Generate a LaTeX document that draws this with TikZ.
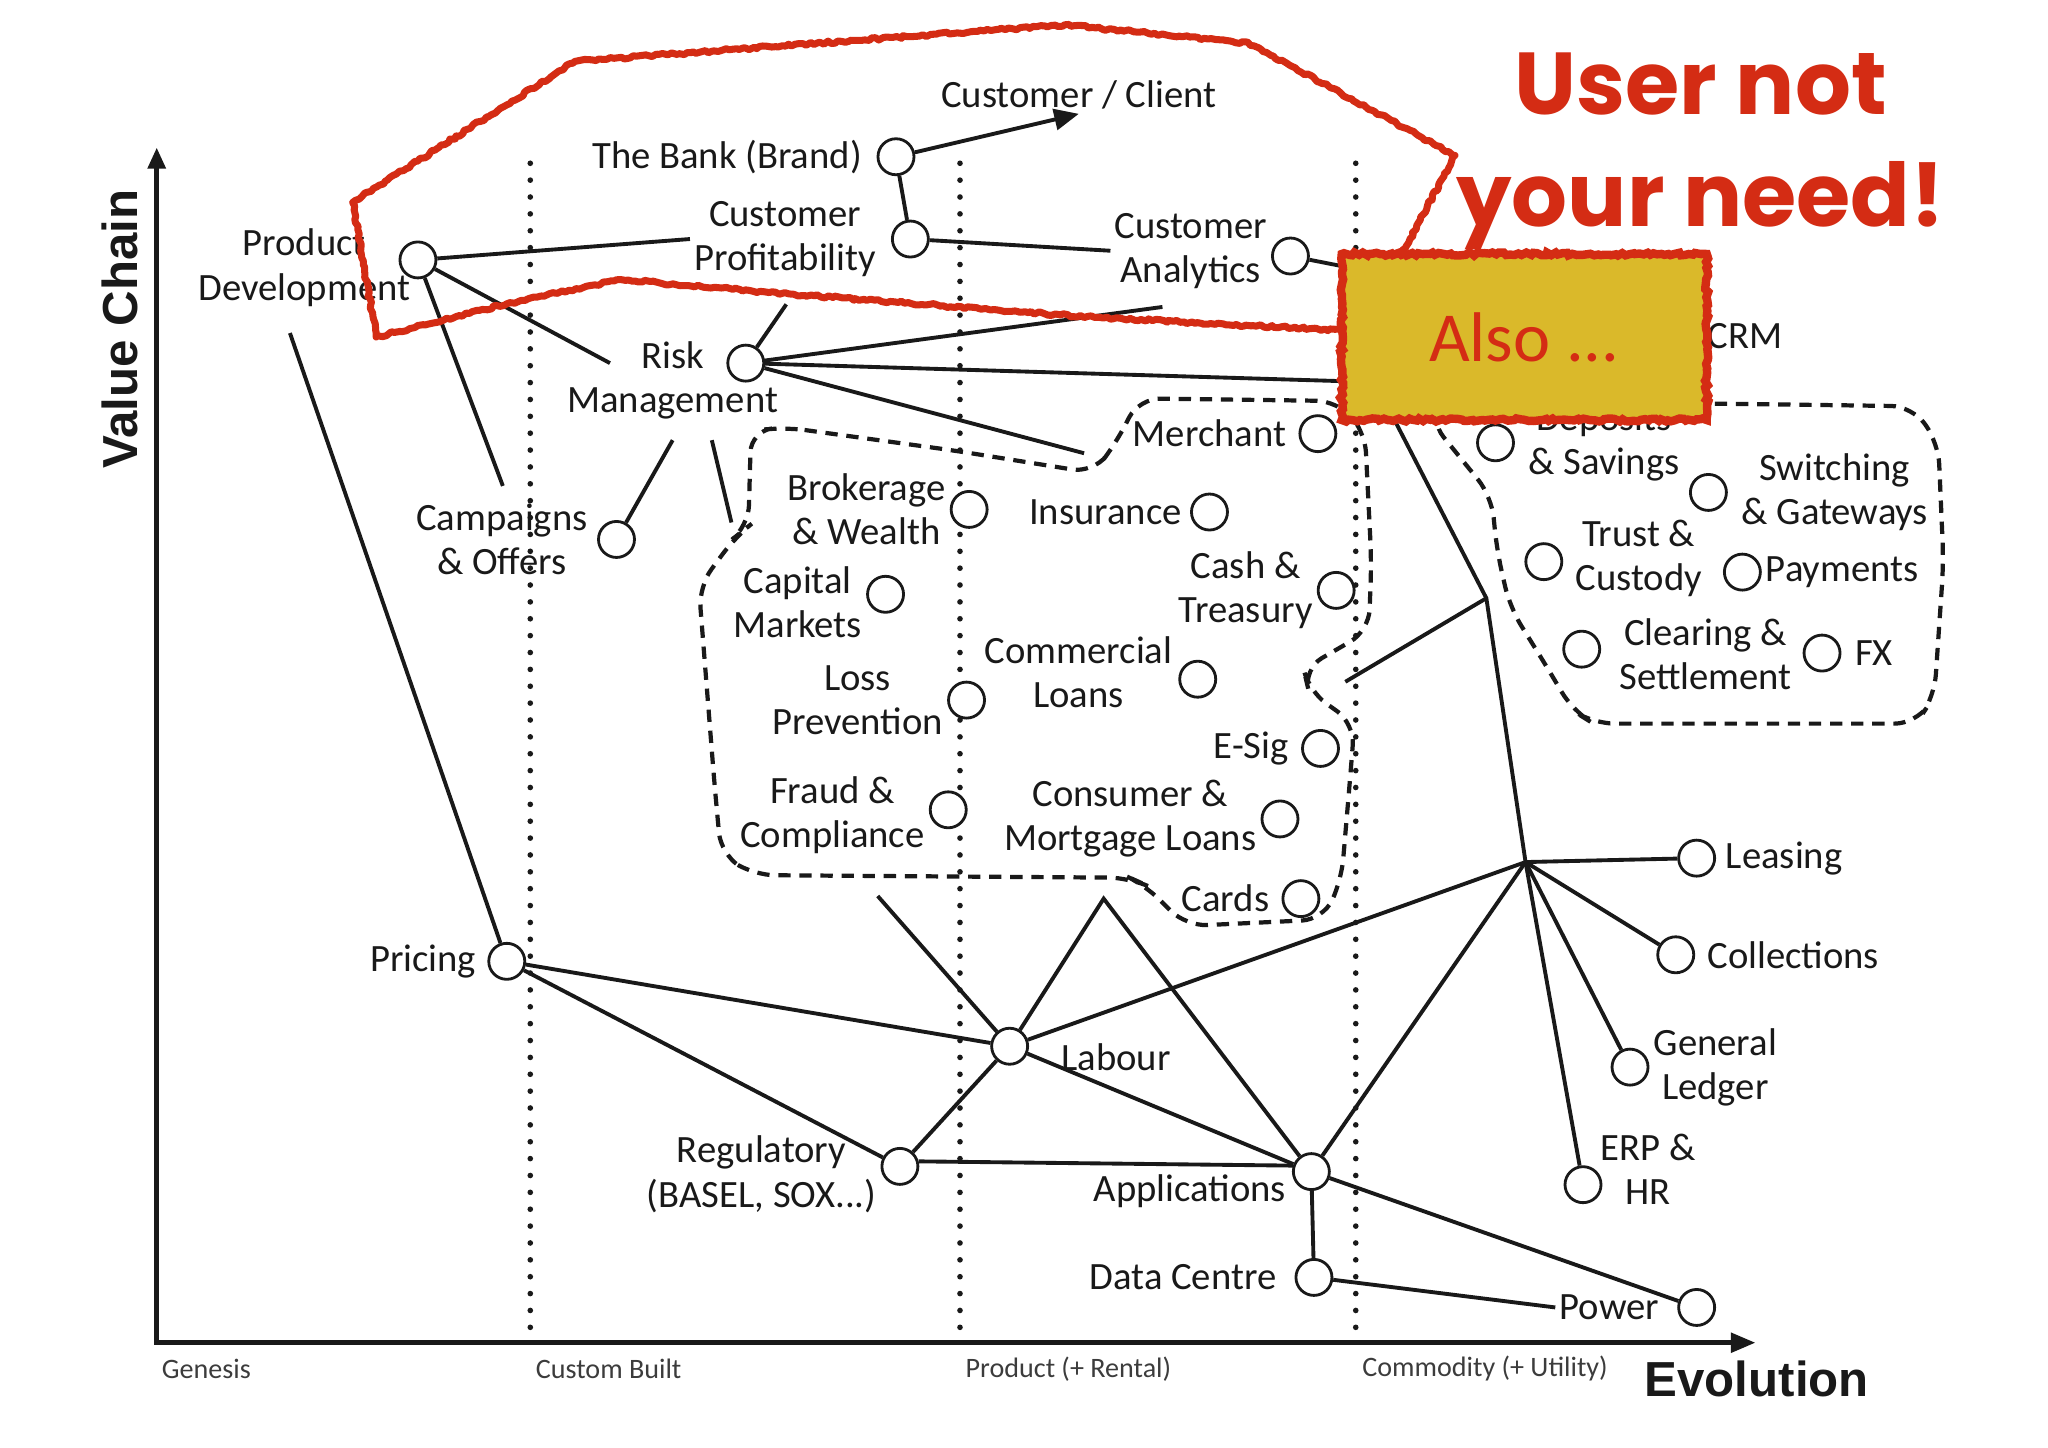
\documentclass[tikz,border=0pt]{standalone}
\usepackage{fontspec}
\setmainfont{Carlito}
\newfontfamily\headfont{Liberation Sans}
\newfontfamily\handfont{Poppins}
\usepackage{tikz}
\usetikzlibrary{arrows.meta, positioning, decorations.pathmorphing}
\definecolor{myred}{RGB}{212,44,20}
\definecolor{mydark}{RGB}{25,25,25}
\definecolor{mygray}{RGB}{60,60,60}
\definecolor{myyellow}{RGB}{218,185,42}
\tikzset{
  comp/.style={circle, draw=mydark, fill=white, minimum size=0.36cm,
    inner sep=0pt, line width=0.8pt},
  lbl/.style={align=center, inner sep=1pt, text=mydark,
    font=\fontsize{11}{12.6}\selectfont},
  stagelbl/.style={inner sep=1pt, text=mygray, font=\fontsize{8}{9}\selectfont},
  axislbl/.style={inner sep=1pt, text=mydark, font=\headfont\bfseries\fontsize{14}{16}\selectfont},
  line/.style={line width=1.1pt, color=mydark},
  arrow/.style={-{Triangle[length=7pt, width=6pt]}, line width=1.1pt, color=mydark},
  axisline/.style={line width=1.3pt, color=mydark},
  stage/.style={line width=1.6pt, line cap=round, dash pattern=on 0pt off 4.8pt, color=mydark},
  grp/.style={line width=1.2pt, dash pattern=on 3.5pt off 2.5pt, rounded corners=6pt, color=mydark},
  rough/.style={draw=myred, line width=2pt, line join=round, decorate,
    decoration={random steps, segment length=1pt, amplitude=0.4pt}}
}

\begin{document}
\begin{tikzpicture}[x=0.01306cm, y=-0.01306cm,
  alsobox/.style={rectangle, fill=myyellow, draw=myred, line width=2.4pt,
    minimum width=3.65cm, minimum height=1.66cm, text=myred,
    font=\fontsize{20}{24}\selectfont, decorate,
    decoration={random steps, segment length=1pt, amplitude=0.45pt}},
  slogan/.style={align=center, text=myred, inner sep=0pt,
    font=\handfont\bfseries\fontsize{25}{32}\selectfont}]
  \pgfmathsetseed{7}
  \useasboundingbox (0,0) rectangle (1568,1108);

  \foreach \x in {406,735,1038}
    \draw[stage] (\x,125) -- (\x,1020);
  \draw[axisline, {Triangle[length=6pt, width=5pt]}-{Triangle[length=7pt, width=5.5pt]}]
    (120,113) -- (120,1028) -- (1344,1028);
  \node[axislbl, rotate=90] (vchain) at (92,252) {Value Chain};
  \node[axislbl] (evol) at (1345,1056) {Evolution};
  \node[stagelbl] (genesis) at (158,1048) {Genesis};
  \node[stagelbl] (custom) at (466,1048) {Custom Built};
  \node[stagelbl] (product) at (818,1048) {Product (+ Rental)};
  \node[stagelbl] (commodity) at (1137,1048) {Commodity (+ Utility)};

  \draw[grp] (600,327) -- (731,345) -- (837,362) -- (854,340) -- (872,305)
    -- (1024,307) -- (1045,330) -- (1050,430) -- (1048,483) -- (998,512)
    -- (1002,529) -- (1037,554) -- (1034,592) -- (1027,674) -- (1013,704)
    -- (908,709) -- (876,677) -- (865,672) -- (577,670) -- (552,654)
    -- (547,600) -- (535,449) -- (563,411) -- (573,403) -- (575,330) -- cycle;
  \draw[grp] (1313,309) -- (1464,311) -- (1484,339) -- (1488,431) -- (1481,533)
    -- (1467,554) -- (1220,554) -- (1204,544) -- (1187,515) -- (1156,465)
    -- (1146,421) -- (1142,380) -- (1095,322) -- (1100,309) -- cycle;

  \node[comp] (bank) at (686,120) {};
  \node[comp] (prof) at (697,183) {};
  \node[comp] (pd) at (320,199) {};
  \node[comp] (anl) at (988,196) {};
  \node[comp] (risk) at (571,278) {};
  \node[comp] (camp) at (472,413) {};
  \node[comp] (merch) at (1009,332) {};
  \node[comp] (dep) at (1145,339) {};
  \node[comp] (switch) at (1308,377) {};
  \node[comp] (trust) at (1182,430) {};
  \node[comp] (pay) at (1334,438) {};
  \node[comp] (clear) at (1211,497) {};
  \node[comp] (fx) at (1395,500) {};
  \node[comp] (broker) at (742,390) {};
  \node[comp] (insur) at (926,392) {};
  \node[comp] (capm) at (678,455) {};
  \node[comp] (cash) at (1023,452) {};
  \node[comp] (comm) at (917,520) {};
  \node[comp] (loss) at (740,536) {};
  \node[comp] (esig) at (1011,573) {};
  \node[comp] (fraud) at (726,620) {};
  \node[comp] (cons) at (980,627) {};
  \node[comp] (cards) at (996,688) {};
  \node[comp] (lease) at (1299,657) {};
  \node[comp] (coll) at (1283,731) {};
  \node[comp] (gl) at (1248,817) {};
  \node[comp] (erp) at (1212,907) {};
  \node[comp] (pricing) at (388,736) {};
  \node[comp] (labour) at (773,801) {};
  \node[comp] (reg) at (689,893) {};
  \node[comp] (apps) at (1004,897) {};
  \node[comp] (dc) at (1006,978) {};
  \node[comp] (power) at (1299,1001) {};

  \node[lbl] (client) at (826,73) {Customer / Client};
  \node[lbl, left=3pt of bank] (bankL) {The Bank (Brand)};
  \node[lbl, left=3pt of prof] (profL) {Customer\\Profitability};
  \node[lbl] (pdL) at (233,205) {Product\\Development};
  \node[lbl, left=0pt of anl, yshift=1.5pt] (anlL) {Customer\\Analytics};
  \node[lbl] (riskL) at (515,291) {Risk\\Management};
  \node[lbl, left=1.5pt of camp] (campL) {Campaigns\\\& Offers};
  \node[lbl] (crmL) at (1336,257) {CRM};
  \node[lbl, left=2.3pt of merch] (merchL) {Merchant};
  \node[lbl, right=2.7pt of dep] (depL) {Deposits\\\& Savings};
  \node[lbl, right=2.7pt of switch] (switchL) {Switching\\\& Gateways};
  \node[lbl, right=2.3pt of trust, yshift=1pt] (trustL) {Trust \&\\Custody};
  \node[lbl, right=0pt of pay] (payL) {Payments};
  \node[lbl, right=4pt of clear, yshift=-1.5pt] (clearL) {Clearing \&\\Settlement};
  \node[lbl, right=2.7pt of fx] (fxL) {FX};
  \node[lbl, left=0pt of broker] (brokerL) {Brokerage\\\& Wealth};
  \node[lbl, left=1.2pt of insur] (insurL) {Insurance};
  \node[lbl, left=0pt of capm, yshift=-2.2pt] (capmL) {Capital\\Markets};
  \node[lbl, left=0pt of cash] (cashL) {Cash \&\\Treasury};
  \node[lbl, left=0.5pt of comm, yshift=2pt] (commL) {Commercial\\Loans};
  \node[lbl, left=0pt of loss] (lossL) {Loss\\Prevention};
  \node[lbl, left=2.3pt of esig] (esigL) {E-Sig};
  \node[lbl, left=0pt of fraud, yshift=-1.5pt] (fraudL) {Fraud \&\\Compliance};
  \node[lbl, left=0pt of cons] (consL) {Consumer \&\\Mortgage Loans};
  \node[lbl, left=2.3pt of cards] (cardsL) {Cards};
  \node[lbl, right=1.6pt of lease] (leaseL) {Leasing};
  \node[lbl, right=2.3pt of coll] (collL) {Collections};
  \node[lbl, right=0pt of gl] (glL) {General\\Ledger};
  \node[lbl] (erpL) at (1262,895) {ERP \&\\HR};
  \node[lbl, left=2pt of pricing] (pricingL) {Pricing};
  \node[lbl, right=8pt of labour, yshift=-3pt] (labourL) {Labour};
  \node[lbl, left=0pt of reg, yshift=-2.2pt] (regL) {Regulatory\\(BASEL, SOX...)};
  \node[lbl] (appsL) at (911,912) {Applications};
  \node[lbl, left=4pt of dc] (dcL) {Data Centre};
  \node[lbl, left=4pt of power] (powerL) {Power};

  \coordinate (hub) at (1168,660);
  \coordinate (knee) at (1138,458);
  \coordinate (kneeup) at (1055,297);
  \coordinate (rightin) at (1030,522);
  \coordinate (peak) at (845,688);
  \coordinate (leftbot) at (672,686);
  \coordinate (leftin) at (560,400);
  \coordinate (lefttop) at (830,347);
  \coordinate (crmin) at (1100,218);
  \coordinate (boxin) at (1100,294);
  \coordinate (riskin) at (467,278);
  \coordinate (riskout1) at (515,337);
  \coordinate (riskout2) at (545,337);
  \coordinate (campin) at (385,372);
  \coordinate (pdout) at (222,255);
  \coordinate (profout) at (602,233);
  \coordinate (anlout) at (890,235);

  \draw[arrow] (bank) -- (client.south);
  \draw[line] (bank) -- (prof);
  \draw[line] (pd) -- (profL.west);
  \draw[line] (prof) -- (anlL.west);
  \draw[line] (anl) -- (crmin);
  \draw[line] (pd) -- (riskin);
  \draw[line] (pd) -- (campin);
  \draw[line] (pdout) -- (pricing);
  \draw[line] (risk) -- (profout);
  \draw[line] (risk) -- (anlout);
  \draw[line] (risk) -- (boxin);
  \draw[line] (risk) -- (lefttop);
  \draw[line] (riskout1) -- (camp);
  \draw[line] (riskout2) -- (leftin);
  \draw[line] (pricing) -- (labour);
  \draw[line] (pricing) -- (reg);
  \draw[line] (labour) -- (leftbot);
  \draw[line] (labour) -- (peak) -- (apps);
  \draw[line] (labour) -- (hub);
  \draw[line] (labour) -- (apps);
  \draw[line] (labour) -- (reg);
  \draw[line] (reg.15) -- (apps.162);
  \draw[line] (apps) -- (hub);
  \draw[line] (apps) -- (dc);
  \draw[line] (apps) -- (power);
  \draw[line] (dc) -- (powerL.west);
  \foreach \n in {lease, coll, gl, erp}
    \draw[line] (hub) -- (\n);
  \draw[line] (hub) -- (knee) -- (kneeup);
  \draw[line] (knee) -- (rightin);

  \draw[rough] (270,155) -- (440,47) -- (815,19) -- (956,33) -- (1114,119)
    -- (1073,195) -- (1060,250) -- (1027,253) -- (838,243) -- (604,225)
    -- (475,214) -- (399,230) -- (288,258) -- cycle;
  \node[alsobox] (also) at (1167,258) {Also ...};
  \node[slogan] (need) at (1302,116) {User not\\your need!};
\end{tikzpicture}
\end{document}
